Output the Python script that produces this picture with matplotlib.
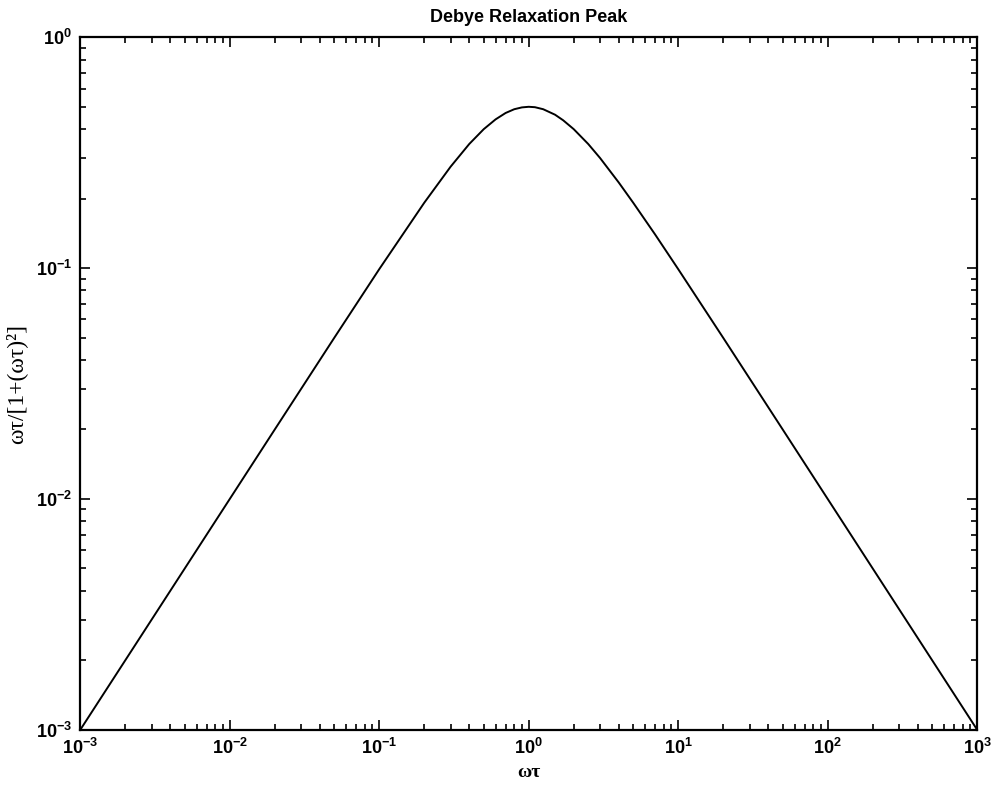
import math
import matplotlib.pyplot as plt
from matplotlib.ticker import FixedLocator, FuncFormatter

plt.rcParams['mathtext.fontset'] = 'custom'
plt.rcParams['mathtext.rm'] = 'Liberation Sans:bold'
plt.rcParams['mathtext.it'] = 'Liberation Sans:bold'
plt.rcParams['mathtext.bf'] = 'Liberation Sans:bold'

# omega*tau values and the loss peak
wt = [1e-3, 2e-3, 5e-3, 1e-2, 2e-2, 5e-2, 0.1, 0.2, 0.3, 0.4, 0.5, 0.6, 0.7,
      0.8, 0.9, 1.0, 1.1, 1.25, 1.5, 1.7, 2.0, 2.5, 3.0, 4.0, 5.0, 7.0, 10.0,
      20.0, 50.0, 100.0, 200.0, 500.0, 1000.0]
loss = [0.001, 0.002, 0.005, 0.01, 0.02, 0.0499, 0.099, 0.192, 0.275, 0.345,
        0.40, 0.441, 0.470, 0.488, 0.497, 0.50, 0.498, 0.488, 0.462, 0.437,
        0.40, 0.345, 0.30, 0.235, 0.192, 0.14, 0.099, 0.0499, 0.02, 0.01,
        0.005, 0.002, 0.001]

x_decades = [1e-3, 1e-2, 1e-1, 1e0, 1e1, 1e2, 1e3]
y_decades = [1e-3, 1e-2, 1e-1, 1e0]


def pow10(v, pos):
    return r'$\mathrm{10^{%d}}$' % int(round(math.log10(v)))


fig = plt.figure(figsize=(9.92, 7.94), dpi=100)
ax = fig.add_axes([0.081, 0.081, 0.904, 0.872])
ax.plot(wt, loss, color='black', lw=1.4)
ax.set_xscale('log')
ax.set_yscale('log')
ax.set_xlim(1e-3, 1e3)
ax.set_ylim(1e-3, 1e0)

ax.xaxis.set_major_locator(FixedLocator(x_decades))
ax.yaxis.set_major_locator(FixedLocator(y_decades))
ax.xaxis.set_major_formatter(FuncFormatter(pow10))
ax.yaxis.set_major_formatter(FuncFormatter(pow10))
ax.tick_params(which='both', direction='in', top=True, right=True, width=1.2)
ax.tick_params(which='major', length=7, labelsize=13, pad=6)
ax.tick_params(which='minor', length=4)
for s in ax.spines.values():
    s.set_linewidth(1.6)

ax.set_title('Debye Relaxation Peak', fontsize=13, fontweight='bold',
             family='Liberation Sans', pad=11)
ax.set_xlabel('ωτ', fontsize=14, family='Liberation Serif', fontweight='bold',
              labelpad=4)
ax.set_ylabel('ωτ/[1+(ωτ)²]', fontsize=17, family='Liberation Serif',
              labelpad=6)

fig.savefig('out.png', dpi=100)
